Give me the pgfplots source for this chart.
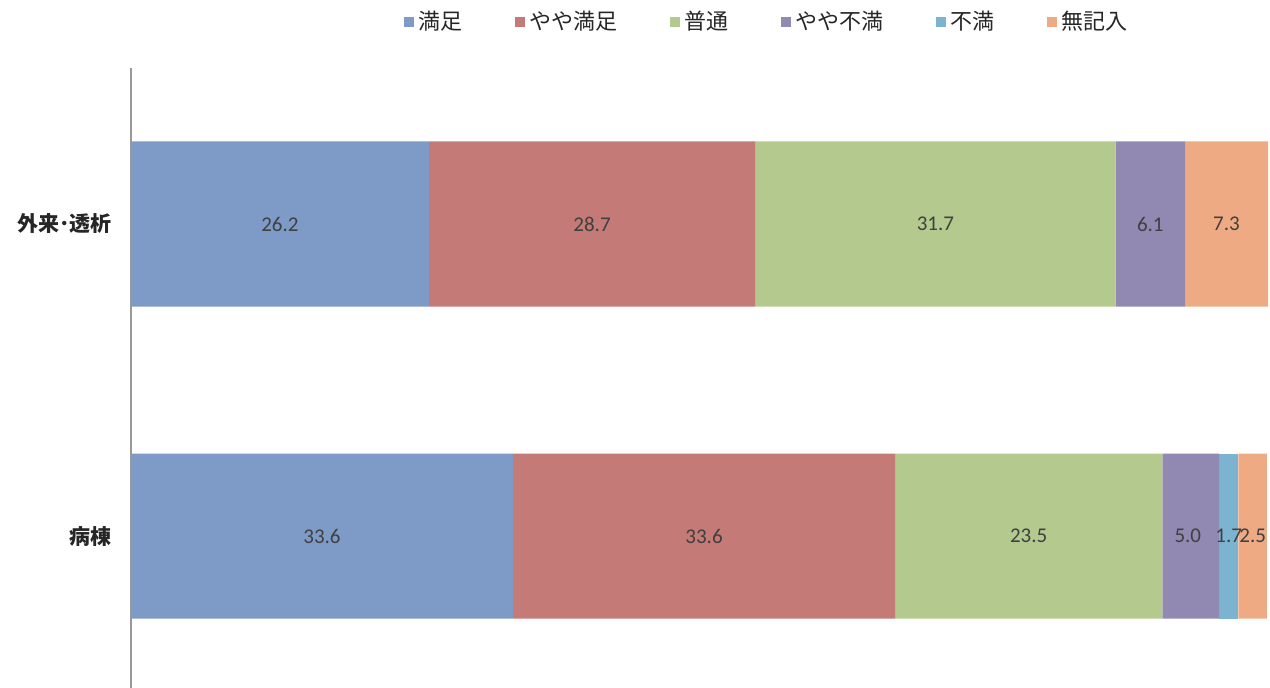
\documentclass[border=0pt]{standalone}
\usepackage{pgfplots}
\usepackage{pgfplotstable}
\pgfplotsset{compat=1.18}
\usepackage{fontspec}
\setmainfont{Carlito}
\newfontfamily\jp{Noto Sans CJK JP}
\definecolor{cA}{HTML}{7D9BC6}
\definecolor{cB}{HTML}{C47A77}
\definecolor{cC}{HTML}{B3C98E}
\definecolor{cD}{HTML}{9189B1}
\definecolor{cE}{HTML}{7CB3D1}
\definecolor{cF}{HTML}{EEAB83}
\definecolor{txt}{HTML}{404040}
\pgfplotstableread{
cat s1 s2 s3 s4 s5 s6
0 33.6 33.6 23.5 5.0 1.7 2.5
1 26.2 28.7 31.7 6.1 0 7.3
}\data
\pgfplotstableread{
x y lab
13.1 1 26.2
40.55 1 28.7
70.75 1 31.7
89.65 1 6.1
96.35 1 7.3
16.8 0 33.6
50.4 0 33.6
78.95 0 23.5
92.95 0 5.0
96.55 0 1.7
98.65 0 2.5
}\labels
\begin{document}
\begin{tikzpicture}
\useasboundingbox (0,0) rectangle (635pt,344pt);
\begin{axis}[
  at={(65.5pt,0pt)}, anchor=south west,
  scale only axis, width=568.5pt, height=310pt,
  xbar stacked, bar width=82.5pt,
  xmin=0, xmax=100, ymin=-0.487, ymax=1.5,
  axis x line=none,
  axis y line*=left,
  y axis line style={draw=black!40, line width=0.6pt, -},
  ytick={0,1}, yticklabels={病棟,外来･透析},
  major tick length=0pt,
  yticklabel style={font=\jp\fontsize{10.5}{12}\selectfont\bfseries, text=black!85, xshift=-6pt},
  legend columns=-1,
  legend style={draw=none, fill=none, at={(0.56,1.074)}, anchor=center,
    font=\jp\fontsize{11}{13}\selectfont, text=black!85,
    /tikz/every even column/.append style={column sep=24.3pt}},
  legend image code/.code={\fill[#1] (0pt,-2.6pt) rectangle (5.2pt,2.6pt);},
]
\addplot[fill=cA, draw=none] table[x=s1,y=cat] {\data};
\addplot[fill=cB, draw=none] table[x=s2,y=cat] {\data};
\addplot[fill=cC, draw=none] table[x=s3,y=cat] {\data};
\addplot[fill=cD, draw=none] table[x=s4,y=cat] {\data};
\addplot[fill=cE, draw=none] table[x=s5,y=cat] {\data};
\addplot[fill=cF, draw=none] table[x=s6,y=cat] {\data};
\legend{満足,やや満足,普通,やや不満,不満,無記入}
\end{axis}
\begin{axis}[
  at={(65.5pt,0pt)}, anchor=south west,
  scale only axis, width=568.5pt, height=310pt,
  xmin=0, xmax=100, ymin=-0.487, ymax=1.5,
  hide axis,
]
\addplot[draw=none, mark=none, nodes near coords, point meta=explicit symbolic,
  every node near coord/.style={anchor=center, font=\fontsize{10.5}{12}\selectfont, text=txt}]
  table[x=x,y=y,meta=lab] {\labels};
\end{axis}
\end{tikzpicture}
\end{document}
